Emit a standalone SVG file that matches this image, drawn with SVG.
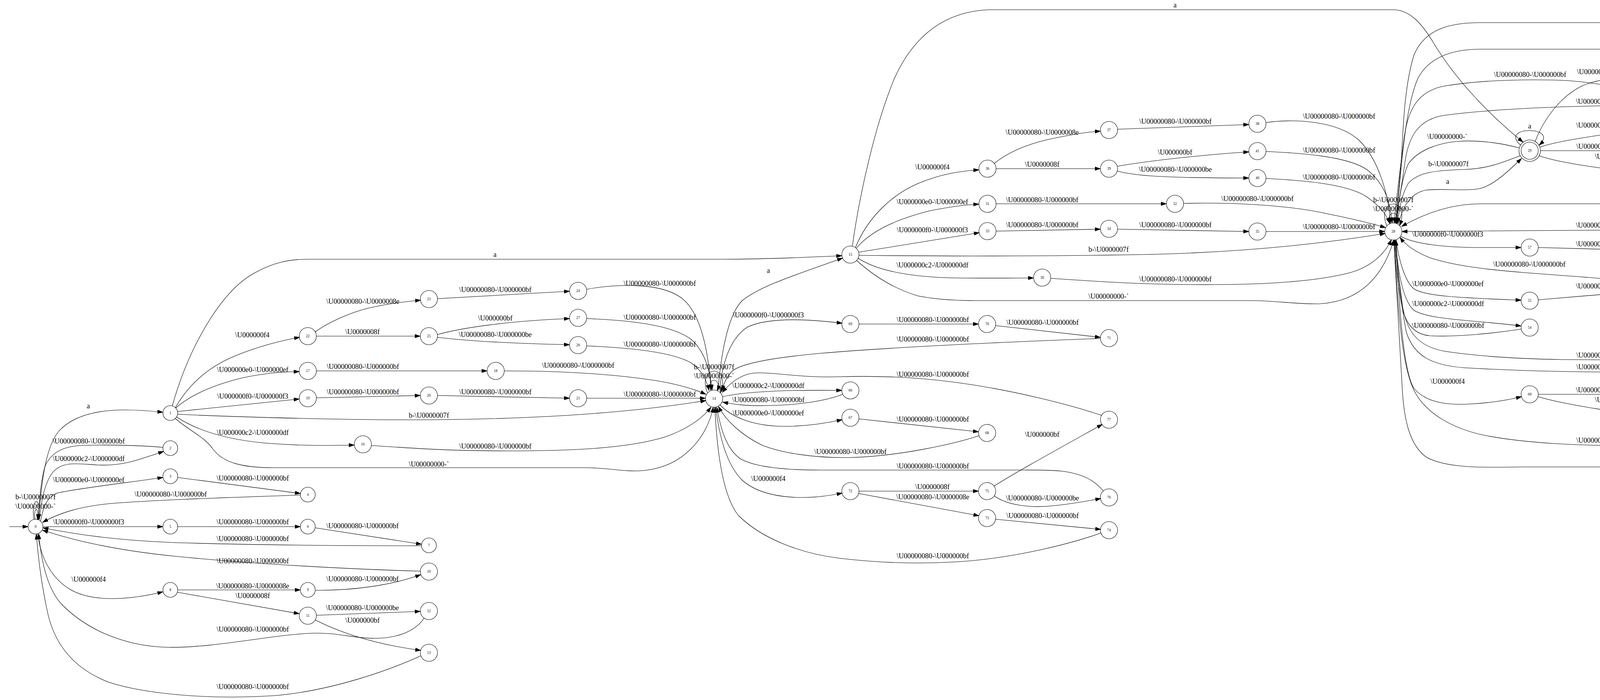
<svg xmlns="http://www.w3.org/2000/svg" width="4999" height="1793" viewBox="0 0 4999 1793">
<style>
.e{fill:none;stroke:#000;stroke-width:1.1;marker-end:url(#ah)}
.l{font-family:"Liberation Serif","Times New Roman",serif;font-size:18.2px;text-anchor:middle;fill:#000}
.n circle{fill:none;stroke:#000;stroke-width:1.1}
.n text{font-family:"Liberation Serif","Times New Roman",serif;font-size:9.33px;text-anchor:middle;fill:#000}
</style>
<defs>
<marker id="ah" markerUnits="userSpaceOnUse" markerWidth="15" markerHeight="11" refX="14" refY="5" orient="auto">
<path d="M0.5,0.6 L14,5 L0.5,9.4 z" fill="#000" stroke="#000" stroke-width="1"/>
</marker>
</defs>
<rect width="4999" height="1793" fill="#fff"/>
<g id="edges">
<path class="e" d="M24,1349 L72,1349"/>
<path class="e" d="M87,1331 C78,1276 106,1262 99,1331"/>
<path class="e" d="M90,1331 C84,1300 100,1292 96,1331"/>
<path class="e" d="M98,1331 C108,1230 115,1150 150,1105 C190,1060 260,1050 320,1050 C360,1050 390,1053 417,1056"/>
<path class="e" d="M417,1146 C380,1142 280,1138 210,1141 C160,1143 130,1160 115,1195 C105,1230 100,1290 98,1331"/>
<path class="e" d="M101,1331 C105,1290 112,1240 135,1210 C160,1180 200,1188 250,1191 C310,1194 350,1180 419,1156"/>
<path class="e" d="M104,1335 C110,1300 120,1270 150,1262 C220,1248 330,1236 417,1223"/>
<path class="e" d="M455,1223 L769,1264"/>
<path class="e" d="M769,1268 C600,1274 400,1280 280,1290 C200,1298 150,1315 109,1338"/>
<path class="e" d="M110,1349 L417,1349"/>
<path class="e" d="M455,1349 L769,1349"/>
<path class="e" d="M807,1352 L1079,1394"/>
<path class="e" d="M1079,1398 C900,1398 650,1396 450,1390 C300,1384 200,1370 110,1352"/>
<path class="e" d="M1076,1463 C900,1458 650,1445 450,1425 C300,1410 190,1385 109,1358"/>
<path class="e" d="M96,1367 C105,1430 130,1480 180,1510 C240,1545 340,1535 417,1516"/>
<path class="e" d="M455,1511 L769,1511"/>
<path class="e" d="M454,1517 L766,1572"/>
<path class="e" d="M807,1512 C900,1513 1000,1500 1077,1472"/>
<path class="e" d="M810,1576 L1076,1566"/>
<path class="e" d="M807,1588 C870,1620 960,1650 1077,1666"/>
<path class="e" d="M1086,1583 C1065,1615 1020,1635 960,1635 C900,1635 870,1620 800,1622 C700,1625 550,1660 430,1658 C330,1656 230,1620 160,1550 C120,1510 105,1430 99,1367"/>
<path class="e" d="M1077,1680 C1000,1715 850,1770 700,1782 C550,1792 380,1780 280,1748 C180,1710 135,1640 120,1560 C105,1490 97,1420 93,1368"/>
<path class="e" d="M441,1040 C480,900 560,750 650,700 C700,672 740,664 790,664 L1850,664 C1950,664 2050,660 2155,655"/>
<path class="e" d="M449,1044 C480,990 530,940 606,910 C660,888 720,872 767,864"/>
<path class="e" d="M806,851 C840,825 900,800 940,790 C990,778 1040,772 1077,769"/>
<path class="e" d="M1120,765 L1458,746"/>
<path class="e" d="M1502,741 C1560,730 1680,720 1740,760 C1800,800 1815,920 1820,999"/>
<path class="e" d="M810,861 L1076,861"/>
<path class="e" d="M1120,857 C1180,840 1300,822 1458,816"/>
<path class="e" d="M1120,864 C1200,874 1320,880 1458,883"/>
<path class="e" d="M1502,816 C1600,820 1720,830 1770,870 C1805,900 1818,950 1823,999"/>
<path class="e" d="M1502,886 C1600,890 1720,900 1770,930 C1795,948 1808,970 1815,1000"/>
<path class="e" d="M450,1045 C490,1010 550,985 620,968 C680,955 730,952 766,952"/>
<path class="e" d="M810,950 L1247,950"/>
<path class="e" d="M1291,950 C1400,950 1550,955 1680,975 C1740,985 1780,998 1807,1010"/>
<path class="e" d="M455,1054 L766,1022"/>
<path class="e" d="M810,1019 L1076,1013"/>
<path class="e" d="M1120,1013 L1458,1020"/>
<path class="e" d="M1502,1020 L1806,1020"/>
<path class="e" d="M455,1061 C600,1068 900,1077 1116,1075 C1350,1073 1600,1060 1807,1026"/>
<path class="e" d="M452,1068 C500,1100 570,1125 680,1135 C780,1143 850,1141 907,1140"/>
<path class="e" d="M951,1141 C1050,1148 1150,1155 1300,1155 C1450,1155 1600,1150 1700,1120 C1760,1100 1800,1070 1820,1043"/>
<path class="e" d="M449,1072 C480,1100 525,1120 545,1150 C570,1185 620,1198 700,1198 L1500,1198 C1560,1198 1600,1210 1650,1205 C1750,1195 1810,1120 1826,1043"/>
<path class="e" d="M1811,1006 C1783,932 1873,932 1844,1006"/>
<path class="e" d="M1820,1001 C1806,965 1850,965 1836,1001"/>
<path class="e" d="M1838,1000 C1845,920 1860,810 1900,770 C1950,730 2050,700 2157,661"/>
<path class="e" d="M1842,1000 C1848,940 1865,870 1913,838 C1960,815 2050,815 2156,828"/>
<path class="e" d="M2199,830 L2505,830"/>
<path class="e" d="M2549,834 L2817,864"/>
<path class="e" d="M2817,867 C2600,875 2300,888 2100,905 C1980,916 1900,930 1875,950 C1860,965 1852,985 1848,1001"/>
<path class="e" d="M2820,1064 C2750,1040 2600,1000 2451,980 C2350,966 2250,962 2150,965 C2050,968 2000,955 1940,955 C1900,955 1870,980 1849,1005"/>
<path class="e" d="M1850,1016 C1900,1005 2000,998 2155,1000"/>
<path class="e" d="M2157,1010 C2120,1025 2050,1038 1960,1039 C1910,1040 1880,1036 1850,1030"/>
<path class="e" d="M1843,1037 C1870,1065 1920,1090 2000,1092 C2060,1093 2110,1085 2156,1075"/>
<path class="e" d="M2199,1073 L2505,1106"/>
<path class="e" d="M2506,1116 C2450,1135 2300,1170 2171,1172 C2080,1173 2000,1160 1950,1140 C1900,1115 1860,1080 1839,1041"/>
<path class="e" d="M2825,1258 C2805,1235 2780,1215 2720,1207 C2680,1203 2640,1204 2600,1204 L2100,1204 C2000,1204 1930,1195 1895,1175 C1860,1150 1845,1100 1835,1043"/>
<path class="e" d="M1832,1043 C1842,1120 1860,1190 1900,1230 C1950,1275 2050,1285 2156,1263"/>
<path class="e" d="M2199,1258 L2505,1258"/>
<path class="e" d="M2198,1264 L2506,1321"/>
<path class="e" d="M2545,1245 C2600,1210 2700,1155 2822,1087"/>
<path class="e" d="M2545,1270 C2580,1295 2640,1302 2700,1295 C2750,1290 2790,1282 2818,1277"/>
<path class="e" d="M2549,1330 L2818,1356"/>
<path class="e" d="M2819,1365 C2750,1390 2600,1430 2451,1439 C2350,1445 2250,1442 2150,1430 C2050,1418 1950,1380 1890,1320 C1850,1270 1835,1150 1830,1043"/>
<path class="e" d="M2182,631 C2200,500 2240,320 2290,200 C2340,90 2420,30 2530,25 L3570,25 C3610,27 3640,60 3670,110 C3730,210 3820,300 3899,364"/>
<path class="e" d="M2190,634 C2220,560 2280,500 2350,470 C2410,445 2460,438 2506,435"/>
<path class="e" d="M2545,419 C2580,390 2630,370 2680,358 C2740,345 2780,338 2817,336"/>
<path class="e" d="M2861,331 L3197,319"/>
<path class="e" d="M3241,314 C3300,305 3420,305 3480,360 C3530,410 3555,500 3560,571"/>
<path class="e" d="M2550,432 L2817,432"/>
<path class="e" d="M2860,426 C2950,410 3100,395 3197,389"/>
<path class="e" d="M2860,438 C2900,450 2980,456 3197,456"/>
<path class="e" d="M3241,388 C3330,392 3450,400 3500,435 C3545,470 3560,520 3564,571"/>
<path class="e" d="M3241,457 C3330,462 3450,470 3500,505 C3535,530 3550,550 3557,572"/>
<path class="e" d="M2192,636 C2230,590 2300,560 2380,540 C2440,528 2480,524 2506,523"/>
<path class="e" d="M2550,522 L2986,522"/>
<path class="e" d="M3030,521 C3150,518 3300,525 3400,548 C3470,562 3510,572 3547,583"/>
<path class="e" d="M2198,646 L2507,596"/>
<path class="e" d="M2550,592 L2817,587"/>
<path class="e" d="M2861,587 L3197,593"/>
<path class="e" d="M3241,593 L3545,593"/>
<path class="e" d="M2199,654 C2450,657 2750,656 2968,651 C3150,646 3350,630 3546,598"/>
<path class="e" d="M2196,661 C2240,690 2320,710 2450,712 C2550,713 2600,712 2646,712"/>
<path class="e" d="M2690,713 C2800,720 2900,728 3050,729 C3200,730 3350,725 3450,700 C3510,685 3545,650 3562,614"/>
<path class="e" d="M2193,667 C2240,710 2290,740 2350,758 C2400,768 2450,770 2500,770 L3200,770 C3270,770 3320,780 3380,778 C3480,772 3540,710 3568,615"/>
<path class="e" d="M3550,578 C3522,504 3612,504 3583,578"/>
<path class="e" d="M3559,573 C3545,537 3589,537 3575,573"/>
<path class="e" d="M3580,575 C3590,530 3610,495 3650,487 C3690,482 3740,490 3783,484 C3820,478 3860,440 3895,406"/>
<path class="e" d="M3891,399 C3850,415 3810,432 3750,434 C3680,436 3630,440 3605,470 C3590,495 3582,530 3578,572"/>
<path class="e" d="M3889,379 C3850,368 3790,358 3733,362 C3680,366 3630,385 3605,420 C3588,460 3580,520 3576,572"/>
<path class="e" d="M3893,372 C3835,322 3995,322 3940,372"/>
<path class="e" d="M3930,362 C3950,310 3990,250 4050,220 C4120,190 4230,195 4315,196"/>
<path class="e" d="M4359,196 L4667,189"/>
<path class="e" d="M4710,180 L4950,124"/>
<path class="e" d="M4950,111 C4900,90 4800,60 4690,58 L3790,58 C3720,58 3650,70 3620,140 C3595,220 3592,330 3588,400 C3582,480 3576,530 3572,571"/>
<path class="e" d="M4966,312 C4960,250 4950,170 4900,135 C4860,108 4800,110 4760,118 C4730,124 4710,126 4680,126 L3790,126 C3720,126 3660,145 3630,200 C3600,270 3590,400 3584,460 C3580,510 3576,545 3574,571"/>
<path class="e" d="M4325,299 C4300,270 4260,250 4169,230 C4100,215 4040,206 3978,205 C3880,203 3780,207 3700,220 C3630,232 3605,280 3595,350 C3585,430 3575,500 3569,571"/>
<path class="e" d="M4667,269 C4500,268 4300,268 4100,271 C3950,274 3800,282 3700,295 C3630,305 3605,350 3596,420 C3588,480 3578,530 3574,571"/>
<path class="e" d="M3942,377 C3990,360 4100,345 4200,332 C4250,326 4290,322 4316,320"/>
<path class="e" d="M3944,386 L4315,386"/>
<path class="e" d="M4357,378 C4430,360 4500,345 4560,320 C4610,300 4640,290 4670,280"/>
<path class="e" d="M3940,399 C4000,420 4150,440 4315,453"/>
<path class="e" d="M4357,448 L4669,377"/>
<path class="e" d="M4710,366 L4949,337"/>
<path class="e" d="M4359,455 L4667,455"/>
<path class="e" d="M4711,454 L4948,449"/>
<path class="e" d="M4960,469 C4940,500 4900,525 4840,528 C4790,530 4760,523 4700,522 L3790,522 C3720,522 3650,545 3588,580"/>
<path class="e" d="M4701,473 L4957,848"/>
<path class="e" d="M4962,888 C4940,980 4880,1100 4800,1160 C4770,1185 4740,1196 4700,1196 L3900,1196 C3800,1198 3700,1200 3650,1170 C3610,1140 3595,1080 3590,1000 C3582,850 3572,700 3568,615"/>
<path class="e" d="M4667,605 C4600,595 4400,588 4169,589 C3950,590 3750,591 3589,593"/>
<path class="e" d="M3585,605 C3620,625 3700,634 3787,634 C3840,634 3870,634 3894,634"/>
<path class="e" d="M3938,634 L4315,644"/>
<path class="e" d="M4359,644 C4450,642 4580,632 4668,615"/>
<path class="e" d="M4316,731 C4200,720 4000,706 3900,698 C3800,690 3720,680 3660,660 C3630,648 3600,630 3584,608"/>
<path class="e" d="M3574,614 C3580,660 3595,720 3620,740 C3650,760 3750,763 3894,769"/>
<path class="e" d="M3938,768 L4316,736"/>
<path class="e" d="M3572,615 C3578,690 3590,770 3620,795 C3660,820 3780,820 3894,835"/>
<path class="e" d="M3894,843 C3830,853 3730,864 3660,860 C3620,856 3600,830 3590,790 C3578,730 3572,670 3570,615"/>
<path class="e" d="M4667,918 C4500,922 4200,923 3997,921 C3880,919 3780,912 3700,900 C3630,888 3600,850 3590,780 C3580,700 3573,650 3570,615"/>
<path class="e" d="M4678,1005 C4660,975 4630,958 4550,954 C4500,952 4300,953 4163,953 C4000,953 3850,948 3749,942 C3670,936 3620,915 3600,850 C3585,770 3577,680 3574,615"/>
<path class="e" d="M4358,1005 C4430,990 4550,965 4669,928"/>
<path class="e" d="M3574,615 C3580,750 3590,950 3620,995 C3650,1030 3700,1038 3760,1035 C3820,1032 3860,1025 3895,1016"/>
<path class="e" d="M3938,1010 L4315,1010"/>
<path class="e" d="M3937,1016 C4000,1035 4150,1060 4315,1076"/>
<path class="e" d="M4359,1077 C4450,1073 4580,1060 4668,1031"/>
<path class="e" d="M4359,1083 L4667,1111"/>
<path class="e" d="M4667,1117 C4550,1128 4400,1138 4200,1141 C4050,1143 3900,1135 3800,1115 C3720,1098 3650,1060 3620,1000 C3590,940 3578,800 3570,615"/>
</g>
<g id="edge-labels" class="l">
<text class="l" x="226" y="1046">a</text>
<text class="l" x="227" y="1136">\U00000080-\U000000bf</text>
<text class="l" x="227" y="1181">\U000000c2-\U000000df</text>
<text class="l" x="227" y="1235">\U000000e0-\U000000ef</text>
<text class="l" x="91" y="1279">b-\U0000007f</text>
<text class="l" x="91" y="1303">\U00000000-`</text>
<text class="l" x="647" y="1231">\U00000080-\U000000bf</text>
<text class="l" x="437" y="1272">\U00000080-\U000000bf</text>
<text class="l" x="227" y="1343">\U000000f0-\U000000f3</text>
<text class="l" x="647" y="1343">\U00000080-\U000000bf</text>
<text class="l" x="928" y="1353">\U00000080-\U000000bf</text>
<text class="l" x="647" y="1386">\U00000080-\U000000bf</text>
<text class="l" x="647" y="1443">\U00000080-\U000000bf</text>
<text class="l" x="227" y="1490">\U000000f4</text>
<text class="l" x="647" y="1507">\U00000080-\U0000008e</text>
<text class="l" x="647" y="1532">\U0000008f</text>
<text class="l" x="928" y="1489">\U00000080-\U000000bf</text>
<text class="l" x="928" y="1563">\U00000080-\U000000be</text>
<text class="l" x="928" y="1595">\U000000bf</text>
<text class="l" x="647" y="1618">\U00000080-\U000000bf</text>
<text class="l" x="647" y="1765">\U00000080-\U000000bf</text>
<text class="l" x="1267" y="658">a</text>
<text class="l" x="646" y="864">\U000000f4</text>
<text class="l" x="929" y="778">\U00000080-\U0000008e</text>
<text class="l" x="1268" y="748">\U00000080-\U000000bf</text>
<text class="l" x="1689" y="732">\U00000080-\U000000bf</text>
<text class="l" x="928" y="856">\U0000008f</text>
<text class="l" x="1268" y="821">\U000000bf</text>
<text class="l" x="1268" y="863">\U00000080-\U000000be</text>
<text class="l" x="1689" y="819">\U00000080-\U000000bf</text>
<text class="l" x="1689" y="888">\U00000080-\U000000bf</text>
<text class="l" x="647" y="953">\U000000e0-\U000000ef</text>
<text class="l" x="929" y="945">\U00000080-\U000000bf</text>
<text class="l" x="1480" y="942">\U00000080-\U000000bf</text>
<text class="l" x="647" y="1021">\U000000f0-\U000000f3</text>
<text class="l" x="929" y="1010">\U00000080-\U000000bf</text>
<text class="l" x="1268" y="1010">\U00000080-\U000000bf</text>
<text class="l" x="1689" y="1016">\U00000080-\U000000bf</text>
<text class="l" x="1098" y="1070">b-\U0000007f</text>
<text class="l" x="647" y="1114">\U000000c2-\U000000df</text>
<text class="l" x="1268" y="1149">\U00000080-\U000000bf</text>
<text class="l" x="1098" y="1195">\U00000000-`</text>
<text class="l" x="1828" y="946">b-\U0000007f</text>
<text class="l" x="1828" y="969">\U00000000-`</text>
<text class="l" x="1967" y="699">a</text>
<text class="l" x="1967" y="813">\U000000f0-\U000000f3</text>
<text class="l" x="2388" y="825">\U00000080-\U000000bf</text>
<text class="l" x="2669" y="832">\U00000080-\U000000bf</text>
<text class="l" x="2388" y="875">\U00000080-\U000000bf</text>
<text class="l" x="2388" y="965">\U00000080-\U000000bf</text>
<text class="l" x="1967" y="994">\U000000c2-\U000000df</text>
<text class="l" x="1967" y="1030">\U00000080-\U000000bf</text>
<text class="l" x="1967" y="1064">\U000000e0-\U000000ef</text>
<text class="l" x="2388" y="1080">\U00000080-\U000000bf</text>
<text class="l" x="2177" y="1163">\U00000080-\U000000bf</text>
<text class="l" x="2388" y="1200">\U00000080-\U000000bf</text>
<text class="l" x="1967" y="1232">\U000000f4</text>
<text class="l" x="2387" y="1253">\U0000008f</text>
<text class="l" x="2388" y="1279">\U00000080-\U0000008e</text>
<text class="l" x="2668" y="1119">\U000000bf</text>
<text class="l" x="2669" y="1282">\U00000080-\U000000be</text>
<text class="l" x="2669" y="1327">\U00000080-\U000000bf</text>
<text class="l" x="2388" y="1430">\U00000080-\U000000bf</text>
<text class="l" x="3008" y="19">a</text>
<text class="l" x="2387" y="434">\U000000f4</text>
<text class="l" x="2668" y="345">\U00000080-\U0000008e</text>
<text class="l" x="3009" y="317">\U00000080-\U000000bf</text>
<text class="l" x="3428" y="304">\U00000080-\U000000bf</text>
<text class="l" x="2668" y="427">\U0000008f</text>
<text class="l" x="3008" y="396">\U000000bf</text>
<text class="l" x="3009" y="440">\U00000080-\U000000be</text>
<text class="l" x="3428" y="391">\U00000080-\U000000bf</text>
<text class="l" x="3428" y="460">\U00000080-\U000000bf</text>
<text class="l" x="2387" y="523">\U000000e0-\U000000ef</text>
<text class="l" x="2668" y="518">\U00000080-\U000000bf</text>
<text class="l" x="3219" y="515">\U00000080-\U000000bf</text>
<text class="l" x="2387" y="595">\U000000f0-\U000000f3</text>
<text class="l" x="2668" y="582">\U00000080-\U000000bf</text>
<text class="l" x="3009" y="582">\U00000080-\U000000bf</text>
<text class="l" x="3428" y="587">\U00000080-\U000000bf</text>
<text class="l" x="2838" y="645">b-\U0000007f</text>
<text class="l" x="2387" y="685">\U000000c2-\U000000df</text>
<text class="l" x="3009" y="721">\U00000080-\U000000bf</text>
<text class="l" x="2838" y="765">\U00000000-`</text>
<text class="l" x="3567" y="518">b-\U0000007f</text>
<text class="l" x="3567" y="541">\U00000000-`</text>
<text class="l" x="3916" y="329">a</text>
<text class="l" x="3706" y="471">a</text>
<text class="l" x="3708" y="426">b-\U0000007f</text>
<text class="l" x="3705" y="356">\U00000000-`</text>
<text class="l" x="4128" y="190">\U000000f0-\U000000f3</text>
<text class="l" x="4548" y="185">\U00000080-\U000000bf</text>
<text class="l" x="4830" y="126">\U00000080-\U000000bf</text>
<text class="l" x="4337" y="53">\U00000080-\U000000bf</text>
<text class="l" x="4337" y="121">\U00000080-\U000000bf</text>
<text class="l" x="3917" y="197">\U00000080-\U000000bf</text>
<text class="l" x="4127" y="266">\U00000080-\U000000bf</text>
<text class="l" x="4127" y="327">\U000000c2-\U000000df</text>
<text class="l" x="4127" y="381">\U000000e0-\U000000ef</text>
<text class="l" x="4548" y="290">\U00000080-\U000000bf</text>
<text class="l" x="4127" y="407">\U000000f4</text>
<text class="l" x="4548" y="380">\U00000080-\U0000008e</text>
<text class="l" x="4830" y="336">\U00000080-\U000000bf</text>
<text class="l" x="4547" y="451">\U0000008f</text>
<text class="l" x="4830" y="446">\U00000080-\U000000be</text>
<text class="l" x="4337" y="516">\U00000080-\U000000bf</text>
<text class="l" x="4830" y="519">\U000000bf</text>
<text class="l" x="4127" y="583">\U00000080-\U000000bf</text>
<text class="l" x="3706" y="606">\U000000f0-\U000000f3</text>
<text class="l" x="4127" y="631">\U00000080-\U000000bf</text>
<text class="l" x="4548" y="616">\U00000080-\U000000bf</text>
<text class="l" x="3915" y="683">\U00000080-\U000000bf</text>
<text class="l" x="3707" y="733">\U000000e0-\U000000ef</text>
<text class="l" x="4127" y="739">\U00000080-\U000000bf</text>
<text class="l" x="3707" y="784">\U000000c2-\U000000df</text>
<text class="l" x="3707" y="840">\U00000080-\U000000bf</text>
<text class="l" x="4128" y="916">\U00000080-\U000000bf</text>
<text class="l" x="4128" y="946">\U00000080-\U000000bf</text>
<text class="l" x="4548" y="933">\U00000080-\U000000bf</text>
<text class="l" x="3706" y="983">\U000000f4</text>
<text class="l" x="4128" y="1005">\U00000080-\U0000008e</text>
<text class="l" x="4127" y="1030">\U0000008f</text>
<text class="l" x="4549" y="1035">\U000000bf</text>
<text class="l" x="4548" y="1086">\U00000080-\U000000be</text>
<text class="l" x="4128" y="1134">\U00000080-\U000000bf</text>
<text class="l" x="4338" y="1192">\U00000080-\U000000bf</text>
</g>
<g id="node0" class="n"><circle cx="91" cy="1349" r="19"/><text x="91" y="1352">0</text></g>
<g id="node1" class="n"><circle cx="436" cy="1058" r="19"/><text x="436" y="1061">1</text></g>
<g id="node2" class="n"><circle cx="436" cy="1148" r="19"/><text x="436" y="1151">2</text></g>
<g id="node3" class="n"><circle cx="436" cy="1220" r="19"/><text x="436" y="1223">3</text></g>
<g id="node4" class="n"><circle cx="788" cy="1267" r="19"/><text x="788" y="1270">4</text></g>
<g id="node5" class="n"><circle cx="436" cy="1349" r="19"/><text x="436" y="1352">5</text></g>
<g id="node6" class="n"><circle cx="788" cy="1349" r="19"/><text x="788" y="1352">6</text></g>
<g id="node7" class="n"><circle cx="1098" cy="1397" r="19"/><text x="1098" y="1400">7</text></g>
<g id="node8" class="n"><circle cx="436" cy="1511" r="19"/><text x="436" y="1514">8</text></g>
<g id="node9" class="n"><circle cx="788" cy="1511" r="19"/><text x="788" y="1514">9</text></g>
<g id="node10" class="n"><circle cx="1098" cy="1464" r="22"/><text x="1098" y="1467">10</text></g>
<g id="node11" class="n"><circle cx="788" cy="1577" r="22"/><text x="788" y="1580">11</text></g>
<g id="node12" class="n"><circle cx="1098" cy="1565" r="22"/><text x="1098" y="1568">12</text></g>
<g id="node13" class="n"><circle cx="1098" cy="1672" r="22"/><text x="1098" y="1675">13</text></g>
<g id="node14" class="n"><circle cx="1828" cy="1021" r="22"/><text x="1828" y="1024">14</text></g>
<g id="node15" class="n"><circle cx="2177" cy="652" r="22"/><text x="2177" y="655">15</text></g>
<g id="node16" class="n"><circle cx="929" cy="1138" r="22"/><text x="929" y="1141">16</text></g>
<g id="node17" class="n"><circle cx="788" cy="950" r="22"/><text x="788" y="953">17</text></g>
<g id="node18" class="n"><circle cx="1269" cy="950" r="22"/><text x="1269" y="953">18</text></g>
<g id="node19" class="n"><circle cx="788" cy="1020" r="22"/><text x="788" y="1023">19</text></g>
<g id="node20" class="n"><circle cx="1098" cy="1013" r="22"/><text x="1098" y="1016">20</text></g>
<g id="node21" class="n"><circle cx="1480" cy="1020" r="22"/><text x="1480" y="1023">21</text></g>
<g id="node22" class="n"><circle cx="788" cy="861" r="22"/><text x="788" y="864">22</text></g>
<g id="node23" class="n"><circle cx="1098" cy="766" r="22"/><text x="1098" y="769">23</text></g>
<g id="node24" class="n"><circle cx="1480" cy="745" r="22"/><text x="1480" y="748">24</text></g>
<g id="node25" class="n"><circle cx="1098" cy="861" r="22"/><text x="1098" y="864">25</text></g>
<g id="node26" class="n"><circle cx="1480" cy="884" r="22"/><text x="1480" y="887">26</text></g>
<g id="node27" class="n"><circle cx="1480" cy="814" r="22"/><text x="1480" y="817">27</text></g>
<g id="node28" class="n"><circle cx="3567" cy="593" r="22"/><text x="3567" y="596">28</text></g>
<g id="node29" class="n"><circle cx="3916" cy="386" r="22"/><circle cx="3916" cy="386" r="27.5"/><text x="3916" y="389">29</text></g>
<g id="node30" class="n"><circle cx="2668" cy="711" r="22"/><text x="2668" y="714">30</text></g>
<g id="node31" class="n"><circle cx="2528" cy="522" r="22"/><text x="2528" y="525">31</text></g>
<g id="node32" class="n"><circle cx="3008" cy="522" r="22"/><text x="3008" y="525">32</text></g>
<g id="node33" class="n"><circle cx="2528" cy="592" r="22"/><text x="2528" y="595">33</text></g>
<g id="node34" class="n"><circle cx="2839" cy="586" r="22"/><text x="2839" y="589">34</text></g>
<g id="node35" class="n"><circle cx="3219" cy="593" r="22"/><text x="3219" y="596">35</text></g>
<g id="node36" class="n"><circle cx="2528" cy="432" r="22"/><text x="2528" y="435">36</text></g>
<g id="node37" class="n"><circle cx="2839" cy="333" r="22"/><text x="2839" y="336">37</text></g>
<g id="node38" class="n"><circle cx="3219" cy="317" r="22"/><text x="3219" y="320">38</text></g>
<g id="node39" class="n"><circle cx="2839" cy="432" r="22"/><text x="2839" y="435">39</text></g>
<g id="node40" class="n"><circle cx="3219" cy="456" r="22"/><text x="3219" y="459">40</text></g>
<g id="node41" class="n"><circle cx="3219" cy="387" r="22"/><text x="3219" y="390">41</text></g>
<g id="node42" class="n"><circle cx="4337" cy="317" r="22"/><text x="4337" y="320">42</text></g>
<g id="node43" class="n"><circle cx="4337" cy="386" r="22"/><text x="4337" y="389">43</text></g>
<g id="node44" class="n"><circle cx="4689" cy="269" r="22"/><text x="4689" y="272">44</text></g>
<g id="node45" class="n"><circle cx="4337" cy="196" r="22"/><text x="4337" y="199">45</text></g>
<g id="node46" class="n"><circle cx="4689" cy="188" r="22"/><text x="4689" y="191">46</text></g>
<g id="node47" class="n"><circle cx="4971" cy="118" r="22"/><text x="4971" y="121">47</text></g>
<g id="node48" class="n"><circle cx="4337" cy="455" r="22"/><text x="4337" y="458">48</text></g>
<g id="node49" class="n"><circle cx="4689" cy="371" r="22"/><text x="4689" y="374">49</text></g>
<g id="node50" class="n"><circle cx="4970" cy="334" r="22"/><text x="4970" y="337">50</text></g>
<g id="node51" class="n"><circle cx="4689" cy="455" r="22"/><text x="4689" y="458">51</text></g>
<g id="node52" class="n"><circle cx="4970" cy="449" r="22"/><text x="4970" y="452">52</text></g>
<g id="node53" class="n"><circle cx="4970" cy="867" r="22"/><text x="4970" y="870">53</text></g>
<g id="node54" class="n"><circle cx="3916" cy="839" r="22"/><text x="3916" y="842">54</text></g>
<g id="node55" class="n"><circle cx="3916" cy="770" r="22"/><text x="3916" y="773">55</text></g>
<g id="node56" class="n"><circle cx="4337" cy="734" r="22"/><text x="4337" y="737">56</text></g>
<g id="node57" class="n"><circle cx="3916" cy="634" r="22"/><text x="3916" y="637">57</text></g>
<g id="node58" class="n"><circle cx="4337" cy="644" r="22"/><text x="4337" y="647">58</text></g>
<g id="node59" class="n"><circle cx="4689" cy="608" r="22"/><text x="4689" y="611">59</text></g>
<g id="node60" class="n"><circle cx="3916" cy="1010" r="22"/><text x="3916" y="1013">60</text></g>
<g id="node61" class="n"><circle cx="4337" cy="1010" r="22"/><text x="4337" y="1013">61</text></g>
<g id="node62" class="n"><circle cx="4689" cy="918" r="22"/><text x="4689" y="921">62</text></g>
<g id="node63" class="n"><circle cx="4337" cy="1079" r="22"/><text x="4337" y="1082">63</text></g>
<g id="node64" class="n"><circle cx="4689" cy="1114" r="22"/><text x="4689" y="1117">64</text></g>
<g id="node65" class="n"><circle cx="4689" cy="1024" r="22"/><text x="4689" y="1027">65</text></g>
<g id="node66" class="n"><circle cx="2177" cy="1000" r="22"/><text x="2177" y="1003">66</text></g>
<g id="node67" class="n"><circle cx="2177" cy="1070" r="22"/><text x="2177" y="1073">67</text></g>
<g id="node68" class="n"><circle cx="2527" cy="1109" r="22"/><text x="2527" y="1112">68</text></g>
<g id="node69" class="n"><circle cx="2177" cy="830" r="22"/><text x="2177" y="833">69</text></g>
<g id="node70" class="n"><circle cx="2527" cy="830" r="22"/><text x="2527" y="833">70</text></g>
<g id="node71" class="n"><circle cx="2839" cy="866" r="22"/><text x="2839" y="869">71</text></g>
<g id="node72" class="n"><circle cx="2177" cy="1258" r="22"/><text x="2177" y="1261">72</text></g>
<g id="node73" class="n"><circle cx="2527" cy="1327" r="22"/><text x="2527" y="1330">73</text></g>
<g id="node74" class="n"><circle cx="2839" cy="1358" r="22"/><text x="2839" y="1361">74</text></g>
<g id="node75" class="n"><circle cx="2527" cy="1258" r="22"/><text x="2527" y="1261">75</text></g>
<g id="node76" class="n"><circle cx="2839" cy="1274" r="22"/><text x="2839" y="1277">76</text></g>
<g id="node77" class="n"><circle cx="2839" cy="1075" r="22"/><text x="2839" y="1078">77</text></g>
</svg>
